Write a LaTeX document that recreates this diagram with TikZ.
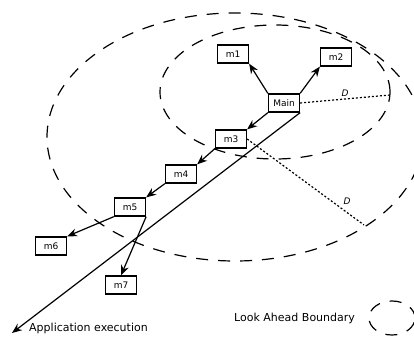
\documentclass[tikz,border=0pt]{standalone}
\usepackage{fontspec}
\setmainfont{DejaVu Sans}
\usetikzlibrary{arrows.meta}

\begin{document}
\begin{tikzpicture}[x=1pt,y=-1pt,
  box/.style={draw,line width=1.3pt,minimum width=31pt,minimum height=18pt,inner sep=0pt,font=\fontsize{9}{10}\selectfont},
  call/.style={line width=1.2pt,-{Stealth[length=10pt,width=8pt]}},
  bound/.style={line width=1.2pt,dash pattern=on 12pt off 10pt},
  dist/.style={line width=1.2pt,dash pattern=on 2pt off 2pt}]

\clip (0,0) rectangle (414,339);

\draw[bound] (235,137) ellipse [x radius=188pt, y radius=124pt];
\draw[bound] (275,92) ellipse [x radius=115pt, y radius=67pt];

\node[box] (m1) at (233,54) {m1};
\node[box] (m2) at (336,57) {m2};
\node[box] (main) at (284,103) {Main};
\node[box] (m3) at (231,139) {m3};
\node[box] (m4) at (181,174) {m4};
\node[box] (m5) at (130,207) {m5};
\node[box] (m6) at (51,246) {m6};
\node[box] (m7) at (121,285) {m7};

\draw[call] (main.north west)--(m1.south east);
\draw[call] (main.north east)--(m2.south west);
\draw[call] (main.south west)--(m3.north east);
\draw[call] (m3.south west)--(m4.north east);
\draw[call] (m4.south west)--(m5.north east);
\draw[call] (m5.south west)--(m6.north east);
\draw[call] (m5.south east)--(m7.north);

\coordinate (dsmall) at (390,95);
\coordinate (dbig) at (364,225);
\draw[dist] (main.east)--(dsmall) node[pos=.5,above=-1pt]{\fontsize{9}{10}\selectfont\textit{D}};
\draw[dist] (m3.east)--(dbig) node[pos=.8,above right=-1pt]{\fontsize{9}{10}\selectfont\textit{D}};

% execution direction
\coordinate (append) at (12,333);
\draw[call] (main.south east)--(append);
\node[anchor=west,inner sep=0pt,font=\fontsize{11}{13}\selectfont] (app) at (29,328) {Application execution};

% legend
\node[anchor=west,inner sep=0pt,font=\fontsize{11}{13}\selectfont] (legend) at (234,318) {Look Ahead Boundary};
\draw[bound] (392,318) ellipse [x radius=23pt, y radius=17pt];

\end{tikzpicture}
\end{document}
